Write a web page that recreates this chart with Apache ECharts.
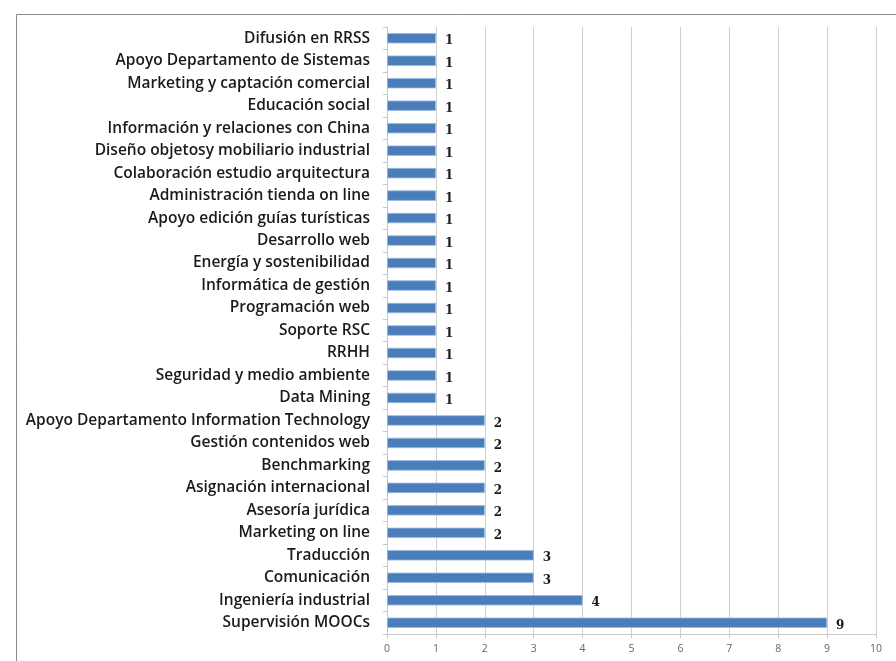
<!DOCTYPE html>
<html><head><meta charset="utf-8">
<script src="https://cdn.jsdelivr.net/npm/echarts@6/dist/echarts.min.js"></script>
<style>html,body{margin:0;padding:0;background:#fff}#c{width:896px;height:661px}</style>
</head><body><div id="c"></div>
<script>
const categories = [
  "Supervisión MOOCs","Ingeniería industrial","Comunicación","Traducción","Marketing on line",
  "Asesoría jurídica","Asignación internacional","Benchmarking","Gestión contenidos web",
  "Apoyo Departamento Information Technology","Data Mining","Seguridad y medio ambiente","RRHH",
  "Soporte RSC","Programación web","Informática de gestión","Energía y sostenibilidad","Desarrollo web",
  "Apoyo edición guías turísticas","Administración tienda on line","Colaboración estudio arquitectura",
  "Diseño objetosy mobiliario industrial","Información y relaciones con China","Educación social",
  "Marketing y captación comercial","Apoyo Departamento de Sistemas","Difusión en RRSS"
];
const values = [9,4,3,3,2,2,2,2,2,2,1,1,1,1,1,1,1,1,1,1,1,1,1,1,1,1,1];
const xTicks = [0,1,2,3,4,5,6,7,8,9,10];

const chart = echarts.init(document.getElementById('c'));
chart.setOption({
  animation: false,
  backgroundColor: '#fff',
  graphic: [{type:'rect', left:14, top:12, shape:{width:900, height:700}, style:{fill:'none', stroke:'#8a8a8a', lineWidth:1}, silent:true}],
  grid: {left:387, right:20, top:27, bottom:27, containLabel:false},
  xAxis: {
    type:'value', min:xTicks[0], max:xTicks[xTicks.length-1], interval:1,
    axisLine:{show:true, lineStyle:{color:'#c8c8c8'}},
    axisTick:{show:true, length:4, lineStyle:{color:'#c8c8c8'}},
    axisLabel:{color:'#666', fontSize:10.5, fontFamily:'Open Sans', margin:10},
    splitLine:{show:true, lineStyle:{color:'#cfcfcf', width:1}}
  },
  yAxis: {
    type:'category', data:categories,
    axisLine:{show:true, lineStyle:{color:'#c8c8c8'}},
    axisTick:{show:true, length:4, lineStyle:{color:'#c8c8c8'}},
    axisLabel:{color:'#1a1a1a', fontSize:15.5, fontWeight:600, fontFamily:'Open Sans', margin:17, padding:[3,0,0,0]}
  },
  series: [{
    type:'bar', data:values, barCategoryGap:'54%',
    itemStyle:{color:'#4a7ebb', borderColor:'#9cbbe0', borderWidth:0.8},
    label:{show:true, position:'right', distance:9, color:'#1a1a1a', fontWeight:'bold', fontSize:12, fontFamily:'DejaVu Serif', offset:[0,3]}
  }]
});
</script></body></html>
